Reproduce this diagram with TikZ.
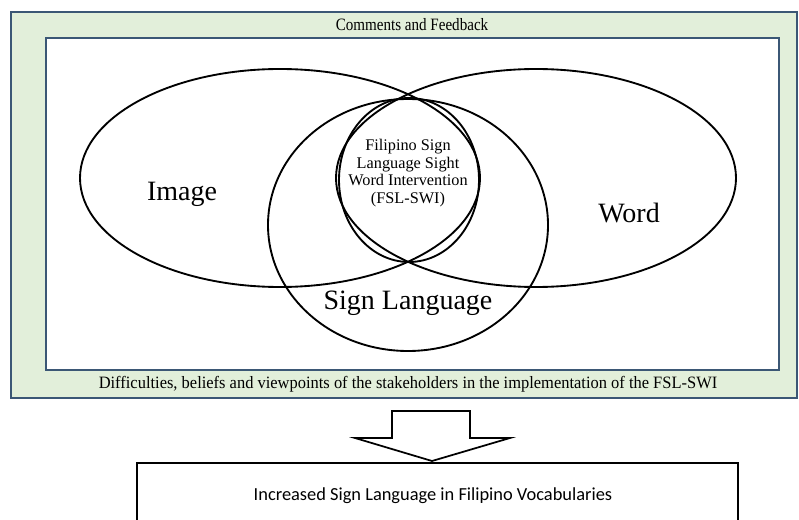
\documentclass[tikz,border=0pt]{standalone}
\usepackage{fontspec}
\setmainfont{Liberation Serif}
\newfontfamily\calibrifont{Carlito}
\usetikzlibrary{shapes.geometric}
\definecolor{panelgreen}{HTML}{E2EFDA}
\definecolor{panelblue}{HTML}{3B5775}
\tikzset{
    venn/.style={ellipse, draw, line width=1.4pt, inner sep=0pt},
    vennlabel/.style={font=\fontsize{21}{25}\selectfont},
    panel/.style={draw=panelblue, line width=1.5pt},
}
\begin{document}
\begin{tikzpicture}[x=0.75pt,y=-0.75pt]
    \useasboundingbox (0,0) rectangle (799,520);
    \clip (0,0) rectangle (799,520);
    % outer and inner panels
    \draw[panel, fill=panelgreen] (11,12) rectangle (797,398);
    \draw[panel, fill=white] (46,38) rectangle (779,370);
    \node[font=\fontsize{13}{15}\selectfont] (comments) at (412,25)
        {\scalebox{0.87}[1]{Comments and Feedback}};
    \node[font=\fontsize{13}{15}\selectfont] (difficulties) at (408,384)
        {\scalebox{0.95}[1]{Difficulties, beliefs and viewpoints of the stakeholders in the implementation of the FSL-SWI}};
    % venn
    \node[venn, minimum width=300pt, minimum height=163.5pt] (image) at (280,178) {};
    \node[venn, minimum width=300pt, minimum height=163.5pt] (word) at (536,178) {};
    \node[venn, minimum width=210pt, minimum height=189pt] (sign) at (408,225) {};
    \node[venn, minimum width=105pt, minimum height=123pt] (fsl) at (409,180) {};
    \node[vennlabel] (imagelabel) at (182,194) {Image};
    \node[vennlabel] (wordlabel) at (629,213) {Word};
    \node[vennlabel] (signlabel) at (408,303) {Sign Language};
    \node[align=center, font=\fontsize{12.2}{13.2}\selectfont] (fsllabel) at (408,173)
        {Filipino Sign\\Language Sight\\Word Intervention\\(FSL-SWI)};
    % arrow to outcome
    \draw[line width=1.3pt, fill=white] (392,411) -- (470,411) -- (470,438) -- (510,438)
        -- (432,461) -- (355,438) -- (392,438) -- cycle;
    \draw[line width=2.2pt] (137,530) -- (137,463) -- (738,463) -- (738,530);
    \node[font=\calibrifont\fontsize{13.8}{16}\selectfont] (outcome) at (433,496)
        {Increased Sign Language in Filipino Vocabularies};
\end{tikzpicture}
\end{document}
